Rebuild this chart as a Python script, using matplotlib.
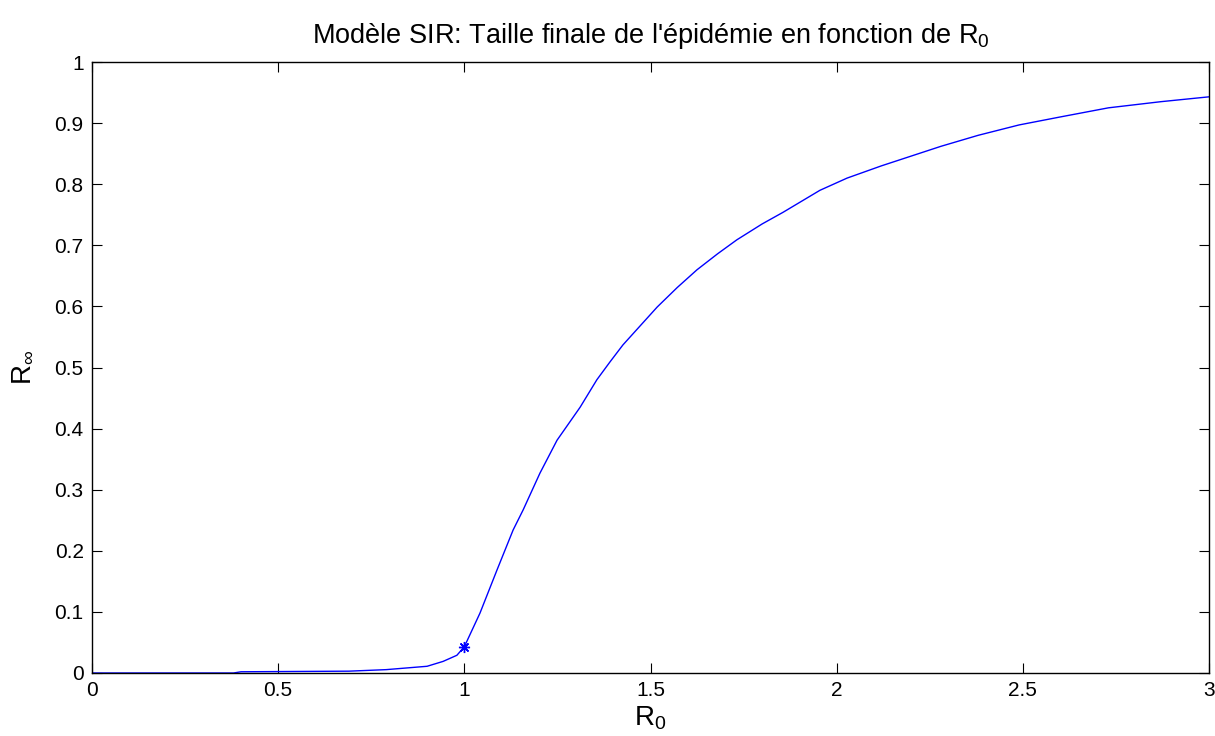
import matplotlib
matplotlib.use("Agg")
import matplotlib.pyplot as plt

###############################################################################

plt.rcParams.update({
    "font.family": ["Liberation Sans", "DejaVu Sans"],
    "mathtext.fontset": "custom",
    "mathtext.rm": "Liberation Sans",
    "mathtext.it": "Liberation Sans:italic",
    "mathtext.bf": "Liberation Sans:bold",
})

# valeurs
r0 = [0.0, 0.38, 0.40, 0.69, 0.79, 0.90, 0.943, 0.98, 1.0, 1.042, 1.088,
      1.131, 1.158, 1.203, 1.249, 1.311, 1.356, 1.391, 1.426, 1.472, 1.518,
      1.572, 1.625, 1.68, 1.732, 1.80, 1.856, 1.955, 2.028, 2.12, 2.20, 2.28,
      2.38, 2.49, 2.60, 2.73, 2.87, 3.0]
r_inf = [0.0, 0.0, 0.002, 0.003, 0.0055, 0.011, 0.019, 0.029, 0.043, 0.098,
         0.169, 0.234, 0.267, 0.327, 0.381, 0.435, 0.480, 0.509, 0.537, 0.568,
         0.599, 0.631, 0.660, 0.686, 0.709, 0.735, 0.754, 0.790, 0.810, 0.830,
         0.846, 0.862, 0.880, 0.897, 0.910, 0.925, 0.935, 0.943]

seuil_x = [1.0]
seuil_y = [0.043]

xticks = [0, 0.5, 1, 1.5, 2, 2.5, 3]
xticklabels = ["0", "0.5", "1", "1.5", "2", "2.5", "3"]
yticks = [0, 0.1, 0.2, 0.3, 0.4, 0.5, 0.6, 0.7, 0.8, 0.9, 1]
yticklabels = ["0", "0.1", "0.2", "0.3", "0.4", "0.5", "0.6", "0.7", "0.8", "0.9", "1"]

BLUE = "#0000FF"

###############################################################################

fig = plt.figure(figsize=(12.15, 7.36), dpi=100)
ax = fig.add_axes([92 / 1215, 63 / 736, 1117 / 1215, 611 / 736])

ax.plot(r0, r_inf, color=BLUE, lw=1.0)
ax.plot(seuil_x, seuil_y, ls="none", marker=(8, 2, 0), ms=8, mew=1.0,
        color=BLUE)

ax.set_xlim(0, 3)
ax.set_ylim(0, 1)
ax.set_xticks(xticks)
ax.set_xticklabels(xticklabels)
ax.set_yticks(yticks)
ax.set_yticklabels(yticklabels)
ax.tick_params(direction="in", top=True, right=True, length=7, width=0.8,
               labelsize=15, pad=6)
for s in ax.spines.values():
    s.set_linewidth(1.0)

ax.set_xlabel(r"R$_0$", fontsize=20, labelpad=3)
ax.set_ylabel(r"R$_\infty$", fontsize=20, labelpad=14)
ax.set_title(r"Modèle SIR: Taille finale de l'épidémie en fonction de R$_0$",
             fontsize=19.5, pad=14)

fig.savefig("out.png", dpi=100)
